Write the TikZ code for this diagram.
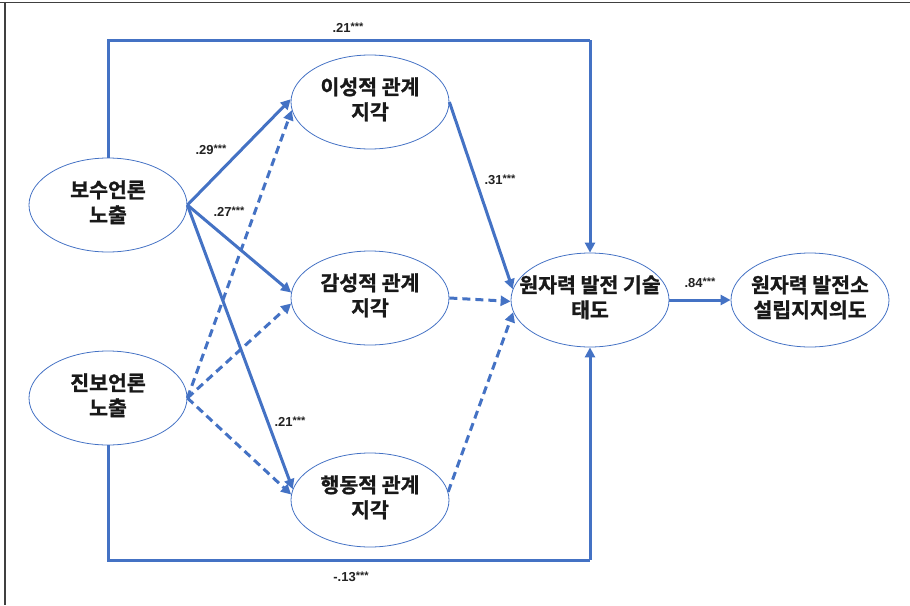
\documentclass[tikz,border=0pt]{standalone}
\usepackage{fontspec}
\setmainfont{Liberation Sans}
\newfontfamily\kr{Noto Sans CJK KR Bold}[FakeBold=1.2]
\usetikzlibrary{shapes.geometric,arrows.meta}
\definecolor{ob}{HTML}{4472C4}
\definecolor{lbl}{HTML}{222222}
\newcommand\tx[2]{\makebox[0pt]{\begin{tabular}{@{}c@{}}#1\\#2\end{tabular}}}
\newcommand\lb[1]{#1\raisebox{0.3ex}{\fontsize{11}{11}\selectfont ***}}
\tikzset{
  ell/.style={ellipse, draw=ob, line width=0.8pt, minimum width=158pt, minimum height=94pt, inner sep=0pt, font=\kr\fontsize{20.5}{25}\selectfont, text=black!90},
  sol/.style={draw=ob, line width=3pt, -{Triangle[length=10pt,width=10pt]}},
  dsh/.style={sol, dash pattern=on 8pt off 5pt},
  frm/.style={draw=ob, line width=3pt},
  lab/.style={font=\bfseries\fontsize{13}{14}\selectfont, text=lbl, inner sep=1pt}
}
\begin{document}
\begin{tikzpicture}[x=1pt,y=-1pt]
\useasboundingbox (0,0) rectangle (910,605);
\draw[draw=black!75, line width=1.5pt] (0,2.5) -- (910,2.5);
\draw[draw=black!75, line width=1.5pt] (5,2.5) -- (5,605);

\node[ell] (bo) at (108,205) {\tx{보수언론}{노출}};
\node[ell] (jin) at (108,398) {\tx{진보언론}{노출}};
\node[ell] (i) at (370,102) {\tx{이성적 관계}{지각}};
\node[ell] (g) at (370,298) {\tx{감성적 관계}{지각}};
\node[ell] (h) at (370,500) {\tx{행동적 관계}{지각}};
\node[ell] (w) at (590,300) {\tx{원자력 발전 기술}{태도}};
\node[ell] (s) at (810,300) {\tx{원자력 발전소}{설립지지의도}};

\coordinate (t1) at (106,40);
\coordinate (b1) at (106,560);
\draw[frm] (bo.north) -- (bo.north |- t1) -- (w.north |- t1);
\draw[sol] (w.north |- t1) -- (w.north);
\draw[frm] (jin.south) -- (jin.south |- b1) -- (w.south |- b1);
\draw[sol] (w.south |- b1) -- (w.south);

\draw[sol] (bo.east) -- (i.178);
\draw[sol] (bo.east) -- (g.176);
\draw[sol] (bo.east) -- (h.172);
\draw[dsh] (jin.east) -- (i.186);
\draw[dsh] (jin.east) -- (g.184);
\draw[dsh] (jin.east) -- (h.176);

\draw[sol] (i.east) -- (w.172);
\draw[dsh] (g.east) -- (w.181);
\draw[dsh] (h.6) -- (w.189);
\draw[sol] (w.east) -- (s.west);

\node[lab] (l1) at (348,28) {\lb{.21}};
\node[lab] (l2) at (211,150) {\lb{.29}};
\node[lab] (l3) at (229,212) {\lb{.27}};
\node[lab] (l4) at (500,180) {\lb{.31}};
\node[lab] (l5) at (290,422) {\lb{.21}};
\node[lab] (l6) at (700,283) {\lb{.84}};
\node[lab] (l7) at (351,577) {\lb{-.13}};
\end{tikzpicture}
\end{document}
